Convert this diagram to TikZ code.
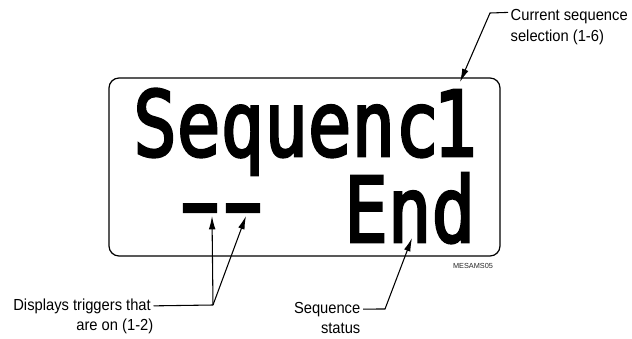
\documentclass[tikz,border=0pt]{standalone}
\usepackage{fontspec}
\setmainfont{Liberation Sans}
\newfontfamily\lcdfont{DejaVu Sans Mono}[FakeBold=3]
\usetikzlibrary{arrows.meta}
\begin{document}
\begin{tikzpicture}[x=0.75pt,y=-0.75pt,
  lbl/.style={font=\fontsize{12}{14}\selectfont, inner xsep=2pt, inner ysep=0pt, xscale=0.92},
  tiny/.style={font=\fontsize{5.5}{6}\selectfont, inner sep=0pt, text=black!85},
  lcd/.style={font=\lcdfont\fontsize{68}{68}\selectfont, inner sep=0pt, xscale=0.8},
  lcddash/.style={font=\lcdfont\fontsize{34}{34}\selectfont, inner sep=0pt, xscale=2.64, yscale=2},
  screenbox/.style={draw, line width=0.9pt, rounded corners=7.5pt, inner sep=0pt},
  lead/.style={line width=0.8pt},
  arr/.style={lead, -{Latex[length=10pt,width=5pt]}},
]
\useasboundingbox (0,0) rectangle (632,339);
% LCD panel
\node[screenbox, minimum width=293.25pt, minimum height=133.5pt] (screen) at (304.5,167) {};
\node[lcd, anchor=base west] (seqtxt) at (133,156) {Sequenc};
\node[lcd, anchor=base] (seqnum) at (455,156) {1};
\node[lcd, anchor=base west] (endtxt) at (344,242) {End};
\node[lcddash, anchor=base] (dashA) at (200,233) {-};
\node[lcddash, anchor=base] (dashB) at (243,233) {-};
\node[tiny, anchor=base] (code) at (473,268) {MESAMS05};
% labels
\node[lbl, anchor=base west] (cur1) at (508,21) {Current sequence};
\node[lbl, anchor=base west] (cur2) at (508,41) {selection (1-6)};
\node[lbl, anchor=base east] (disp1) at (153.5,310) {Displays triggers that};
\node[lbl, anchor=base east] (disp2) at (156,330) {are on (1-2)};
\node[lbl, anchor=base east] (seq1) at (363,313) {Sequence};
\node[lbl, anchor=base east] (seq2) at (363,333) {status};
% leader points
\coordinate (curbend) at (490,13);
\coordinate (curtip) at (460,82);
\coordinate (dispbend) at (213,305);
\coordinate (tipA) at (212,216);
\coordinate (tipB) at (246,216);
\coordinate (seqbend) at (385,309);
\coordinate (seqtip) at (412,238);
% leaders
\draw[arr] ([yshift=3.5pt]cur1.west) -- (curbend) -- (curtip);
\draw[lead] (disp1.east) -- (dispbend);
\draw[arr] (dispbend) -- (tipA);
\draw[arr] (dispbend) -- (tipB);
\draw[arr] (seq1.east) -- (seqbend) -- (seqtip);
\end{tikzpicture}
\end{document}
